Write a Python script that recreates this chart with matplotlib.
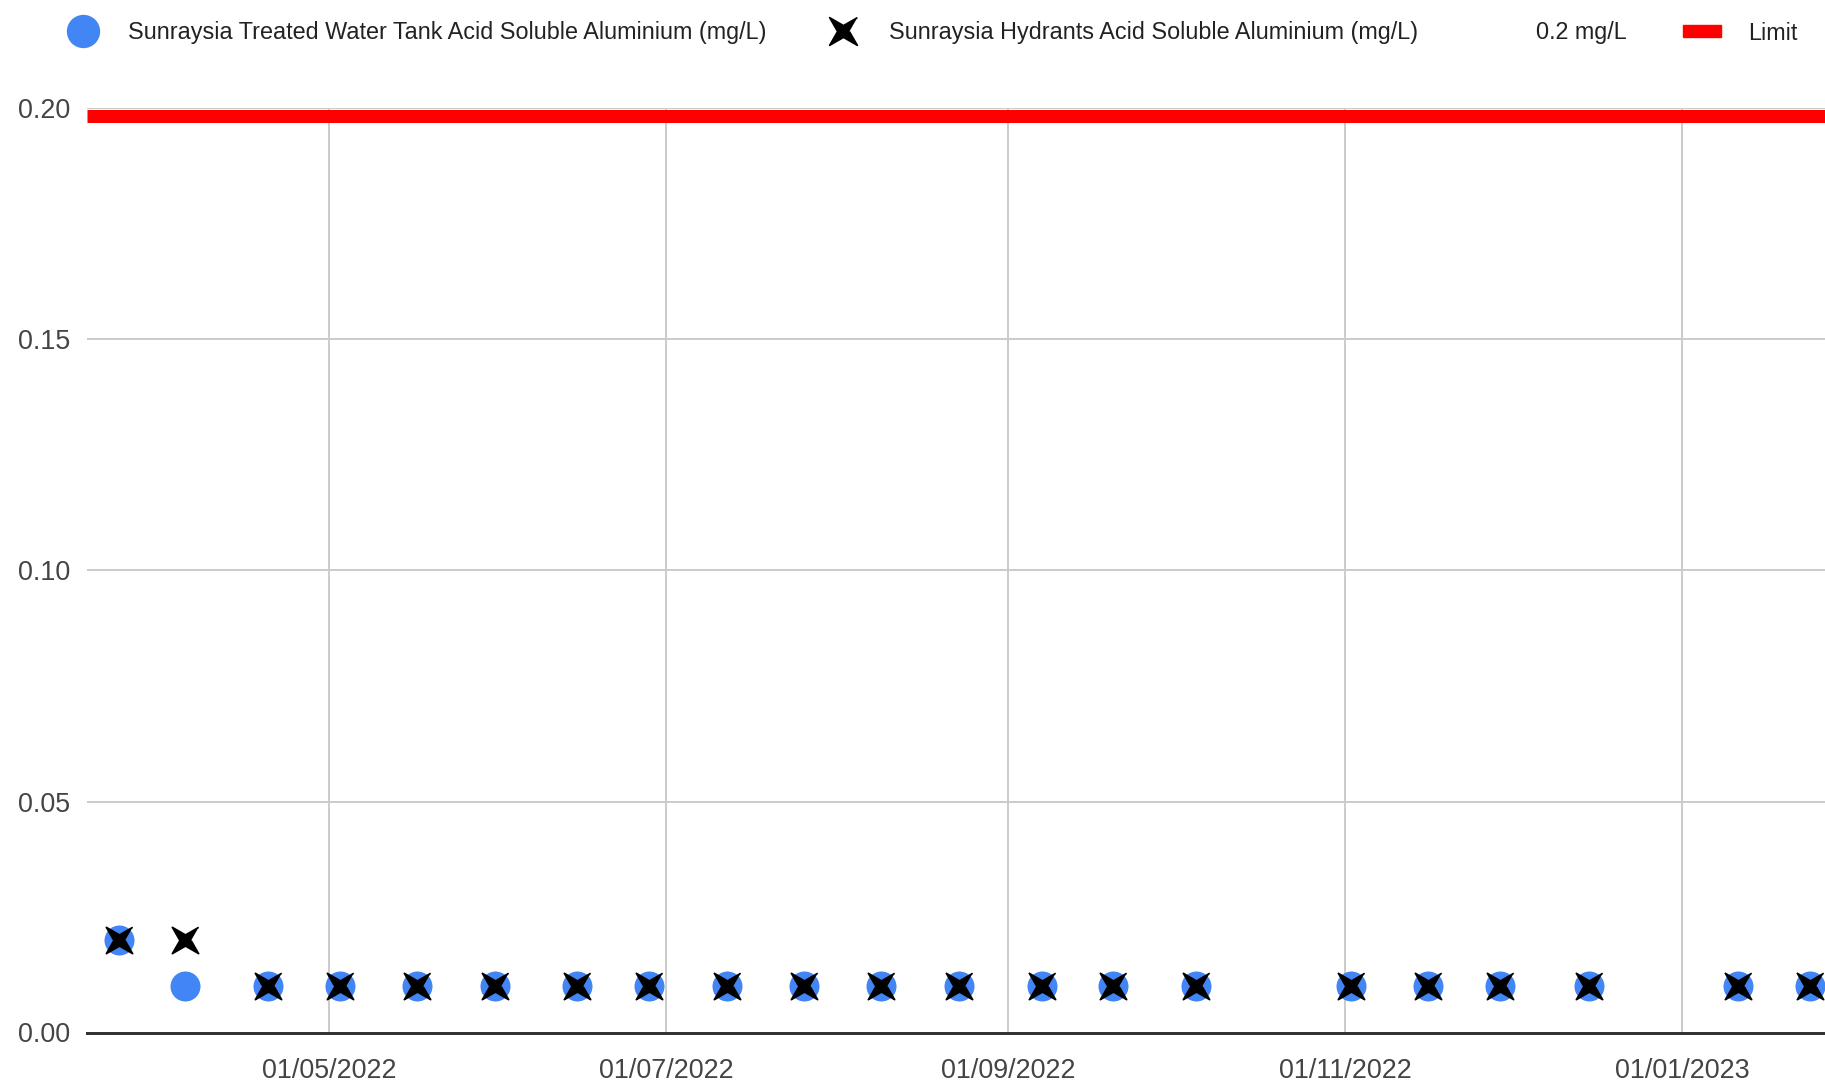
import numpy as np
import matplotlib
matplotlib.use("Agg")
import matplotlib.pyplot as plt
import matplotlib.dates as mdates
from matplotlib import font_manager
from matplotlib.lines import Line2D
from matplotlib.patches import Rectangle
import matplotlib.transforms as mtransforms

# ---------------- data ----------------
sample_dates = np.array([
    "2022-03-24", "2022-04-05", "2022-04-20", "2022-05-03", "2022-05-17",
    "2022-05-31", "2022-06-15", "2022-06-28", "2022-07-12", "2022-07-26",
    "2022-08-09", "2022-08-23", "2022-09-07", "2022-09-20", "2022-10-05",
    "2022-11-02", "2022-11-16", "2022-11-29", "2022-12-15", "2023-01-11",
    "2023-01-24"], dtype="datetime64[D]")
tank_al = [0.02, 0.01, 0.01, 0.01, 0.01, 0.01, 0.01, 0.01, 0.01, 0.01,
           0.01, 0.01, 0.01, 0.01, 0.01, 0.01, 0.01, 0.01, 0.01, 0.01, 0.01]
hydrant_al = [0.02, 0.02, 0.01, 0.01, 0.01, 0.01, 0.01, 0.01, 0.01, 0.01,
              0.01, 0.01, 0.01, 0.01, 0.01, 0.01, 0.01, 0.01, 0.01, 0.01, 0.01]
limit_value = 0.2
legend_labels = ["Sunraysia Treated Water Tank Acid Soluble Aluminium (mg/L)",
                 "Sunraysia Hydrants Acid Soluble Aluminium (mg/L)",
                 "0.2 mg/L", "Limit"]
y_ticks = [0.00, 0.05, 0.10, 0.15, 0.20]
x_start = np.datetime64("2022-03-18T04:48")
x_end = np.datetime64("2023-01-26T19:12")

# ---------------- fonts ----------------
names = {f.name for f in font_manager.fontManager.ttflist}
if "Liberation Sans Narrow" in names:
    FAM = ["Liberation Sans Narrow", "Liberation Sans", "DejaVu Sans"]
    tick_fs, leg_fs = 23.7, 20.4
else:
    FAM = ["Liberation Sans", "DejaVu Sans"]
    tick_fs, leg_fs = 19.4, 16.8
plt.rcParams["font.family"] = FAM

W, H, DPI = 1825, 1087, 100
fig = plt.figure(figsize=(W / DPI, H / DPI), dpi=DPI)
ax = fig.add_axes([86.8 / W, (H - 1032.5) / H, (W - 86.8) / W, (1032.5 - 108.5) / H])

# custom X marker (4-point star rotated)
ang = np.deg2rad(45 + 45 * np.arange(8))
rad = np.where(np.arange(8) % 2 == 0, 1.0, 0.3)
xmark = list(zip(rad * np.cos(ang), rad * np.sin(ang)))

BLUE = "#4285f4"
ax.plot(sample_dates, tank_al, linestyle="none", marker="o", markersize=21.6,
        markerfacecolor=BLUE, markeredgewidth=0, zorder=3, clip_on=False)
ax.plot(sample_dates, hydrant_al, linestyle="none", marker=xmark, markersize=19,
        markerfacecolor="black", markeredgecolor="black", markeredgewidth=1.2,
        zorder=4, clip_on=False)

# limit line
off = mtransforms.ScaledTranslation(0, -8 / DPI, fig.dpi_scale_trans)
lim_line = ax.axhline(limit_value, color="#ff0000", linewidth=13 * 72 / DPI,
                      zorder=5, clip_on=False, solid_capstyle="butt")
lim_line.set_transform(lim_line.get_transform() + off)

ax.set_xlim(x_start, x_end)
ax.set_ylim(0, 0.2)
ax.set_yticks(y_ticks)
ax.yaxis.set_major_formatter(matplotlib.ticker.FormatStrFormatter("%.2f"))
ax.xaxis.set_major_locator(mdates.MonthLocator(bymonth=[1, 3, 5, 7, 9, 11]))
ax.xaxis.set_major_formatter(mdates.DateFormatter("%d/%m/%Y"))

ax.grid(True, color="#cccccc", linewidth=2 * 72 / DPI, zorder=0)
ax.set_axisbelow(True)
for s in ["top", "right", "left"]:
    ax.spines[s].set_visible(False)
ax.spines["bottom"].set_color("#333333")
ax.spines["bottom"].set_linewidth(3 * 72 / DPI)
ax.spines["bottom"].set_zorder(2)
ax.tick_params(axis="both", length=0, labelsize=tick_fs, labelcolor="#444444")
ax.tick_params(axis="y", pad=12)
ax.tick_params(axis="x", pad=18)

# ---------------- legend (manual) ----------------
ly = 1 - 31 / H
ty = 1 - 33 / H
fig.add_artist(Line2D([83 / W], [ly], marker="o", markersize=24, linestyle="none",
                      markerfacecolor=BLUE, markeredgewidth=0, transform=fig.transFigure))
fig.text(128 / W, ty, legend_labels[0], fontsize=leg_fs, color="#222222",
         va="center", ha="left")
fig.add_artist(Line2D([843 / W], [ly], marker=xmark, markersize=20, linestyle="none",
                      markerfacecolor="black", markeredgecolor="black",
                      markeredgewidth=1.2, transform=fig.transFigure))
fig.text(889 / W, ty, legend_labels[1], fontsize=leg_fs, color="#222222",
         va="center", ha="left")
fig.text(1536 / W, ty, legend_labels[2], fontsize=leg_fs, color="#222222",
         va="center", ha="left")
fig.add_artist(Rectangle((1683 / W, ly - 6 / H), 38 / W, 12 / H, color="#ff0000",
                         transform=fig.transFigure))
fig.text(1748 / W, ty, legend_labels[3], fontsize=leg_fs, color="#222222",
         va="center", ha="left")

fig.savefig("out.png", dpi=DPI, facecolor="white")
